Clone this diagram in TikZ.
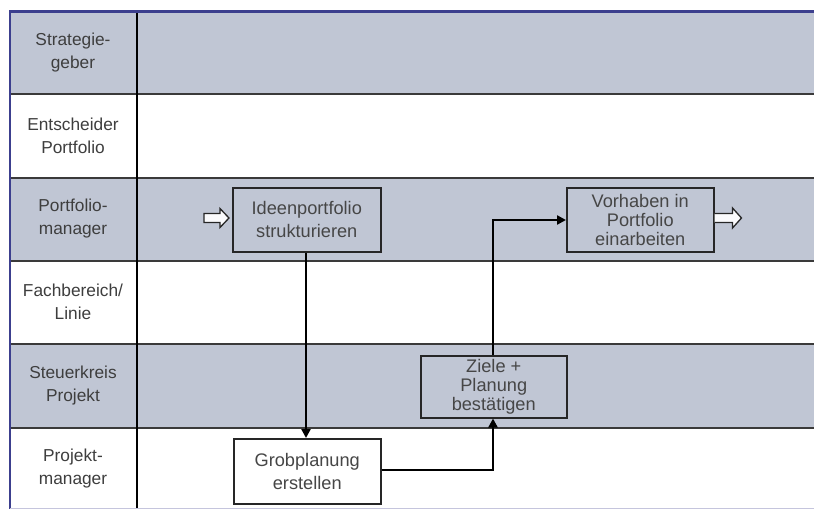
\documentclass[tikz,border=0pt]{standalone}
\usepackage{fontspec}
\setmainfont{Liberation Sans}
\usetikzlibrary{arrows.meta}
\definecolor{lanefill}{HTML}{C0C6D4}
\definecolor{laneline}{HTML}{3A3A3A}
\definecolor{frameblue}{HTML}{3C3F8E}
\definecolor{labeltext}{HTML}{3E3E3E}
\definecolor{boxtext}{HTML}{464646}
\tikzset{
  lanelabel/.style={text=labeltext, align=center, font=\fontsize{17.3}{23}\selectfont},
  task/.style={draw=black!85, line width=1.5pt, align=center, text=boxtext,
    font=\fontsize{18.2}{23}\selectfont, inner sep=0pt, anchor=north west},
  tight/.style={font=\fontsize{18.2}{19}\selectfont},
  flow/.style={draw=black, line width=2.8pt, -{Triangle[length=9pt,width=9pt]}},
  hollow/.style={draw=black!85, line width=1.3pt, fill=white!92!lanefill, line join=miter},
}
\begin{document}
\begin{tikzpicture}[x=1pt,y=-1pt]
\useasboundingbox (0,0) rectangle (814,509);
% lane backgrounds
\fill[white] (0,0) rectangle (814,509);
\foreach \top/\bot in {12/94,178/261,344/428}
  \fill[lanefill] (10,\top) rectangle (814,\bot);
% lane separators
\foreach \yy in {94,178,261,344,428}
  \draw[laneline, line width=1.4pt] (10,\yy) -- (814,\yy);
\draw[black, line width=1.4pt] (137,12) -- (137,509);
% outer frame
\draw[frameblue, line width=3pt] (9,11) -- (814,11);
\draw[frameblue, line width=2pt] (10,11) -- (10,509);
\draw[frameblue!30, line width=1pt] (10,508.5) -- (814,508.5);

% lane labels
\node[lanelabel] (l1) at (73,53) {Strategie-\\geber};
\node[lanelabel] (l2) at (73,136) {Entscheider\\Portfolio};
\node[lanelabel] (l3) at (73,219) {Portfolio-\\manager};
\node[lanelabel] (l4) at (73,302) {Fachbereich/\\Linie};
\node[lanelabel] (l5) at (73,386) {Steuerkreis\\Projekt};
\node[lanelabel] (l6) at (73,469) {Projekt-\\manager};

% tasks
\node[task, fill=lanefill, minimum width=148pt, minimum height=64pt] (ideen) at (232,187) {Ideenportfolio\\strukturieren};
\node[task, tight, fill=lanefill, minimum width=147pt, minimum height=64pt] (vorhaben) at (566,187) {Vorhaben in\\Portfolio\\einarbeiten};
\node[task, tight, fill=lanefill, minimum width=146pt, minimum height=62pt] (ziele) at (420,355) {Ziele +\\Planung\\bestätigen};
\node[task, fill=white, minimum width=147pt, minimum height=65pt] (grob) at (233,438) {Grobplanung\\erstellen};

% flow connectors
\coordinate (c1) at (493,470);
\coordinate (c2) at (493,220);
\draw[flow] (ideen.south -| 306,0) -- (grob.north -| 306,0);
\draw[flow] (grob.east |- c1) -- (c1) -- (ziele.south -| c1);
\draw[flow] (ziele.north -| c2) -- (c2) -- (vorhaben.west |- c2);

% hollow in/out arrows
\coordinate (inA) at (204,218);
\coordinate (outA) at (vorhaben.east |- 0,218);
\draw[hollow] (inA) ++(0,-4.5) -- ++(16,0) -- ++(0,-5) -- ++(9,9.5) -- ++(-9,9.5) -- ++(0,-5) -- ++(-16,0) -- cycle;
\draw[hollow] (outA) ++(0,-4.5) -- ++(18,0) -- ++(0,-5.5) -- ++(9,10) -- ++(-9,10) -- ++(0,-5.5) -- ++(-18,0);
\end{tikzpicture}
\end{document}
